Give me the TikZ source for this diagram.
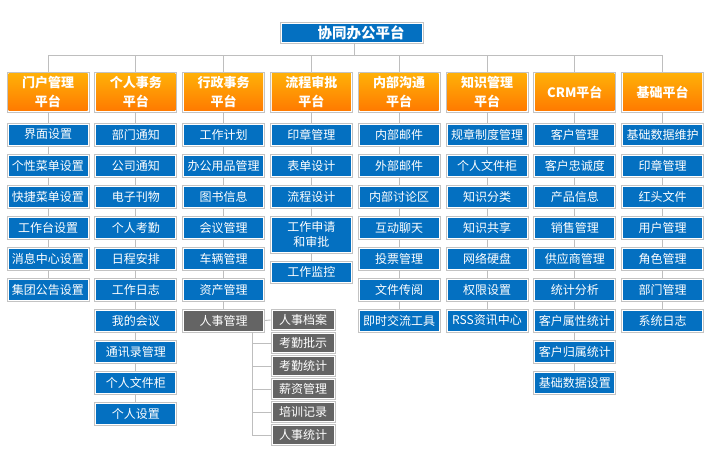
\documentclass[tikz,border=0pt]{standalone}
\usepackage{fontspec}
\newfontfamily\cjk{Noto Sans CJK SC}
\definecolor{blueC}{RGB}{4,112,193}
\definecolor{grayC}{RGB}{100,100,100}
\definecolor{oTop}{RGB}{255,178,8}
\definecolor{oBot}{RGB}{255,120,0}
\definecolor{lineC}{RGB}{190,190,190}
\definecolor{bordC}{RGB}{195,195,195}
\tikzset{
  anybox/.style={draw=bordC, line width=0.9pt, fill=white, inner sep=0pt,
    text=white, align=center, minimum width=82pt, minimum height=23pt,
    font=\cjk\fontsize{12}{16}\selectfont},
  bbox/.style={anybox, path picture={\fill[blueC]
    ([shift={(1.5pt,-1.5pt)}]path picture bounding box.north west) rectangle
    ([shift={(-1.5pt,1.5pt)}]path picture bounding box.south east);}},
  gbox/.style={anybox, path picture={\fill[grayC]
    ([shift={(1.5pt,-1.5pt)}]path picture bounding box.north west) rectangle
    ([shift={(-1.5pt,1.5pt)}]path picture bounding box.south east);}},
  hbox/.style={anybox, minimum height=40pt, font=\cjk\bfseries\fontsize{13}{19}\selectfont,
    path picture={\shade[top color=oTop, bottom color=oBot]
    ([shift={(1.5pt,-1.5pt)}]path picture bounding box.north west) rectangle
    ([shift={(-1.5pt,1.5pt)}]path picture bounding box.south east);}},
  subbox/.style={gbox, minimum width=64pt, minimum height=21pt},
  conn/.style={draw=lineC, line width=0.9pt},
}
\newcommand\mycolumn[3]{%
  \foreach \lbl [count=\k] in {#3} {
    \pgfmathtruncatemacro\p{\k-1}
    \node[bbox] (c#1r\k) at (#2,{134.5+31*(\k-1)}) {\lbl};
    \draw[conn] (c#1r\p.south) -- (c#1r\k.north);
  }}
\begin{document}
\begin{tikzpicture}[x=1pt,y=-1pt]
\useasboundingbox[fill=white] (0,0) rectangle (712,475);
% title
\node[bbox, minimum width=143pt, minimum height=21pt,
  font=\cjk\bfseries\fontsize{14.5}{16}\selectfont] (title) at (351.5,32.5)
  {\hspace*{19pt}协同办公平台};
\coordinate (bus) at (0,55);
% headers
\node[hbox] (c1r0) at (48,92) {门户管理\\平台};
\node[hbox] (c2r0) at (135.8,92) {个人事务\\平台};
\node[hbox] (c3r0) at (223.6,92) {行政事务\\平台};
\node[hbox] (c4r0) at (311.4,92) {流程审批\\平台};
\node[hbox] (c5r0) at (399.2,92) {内部沟通\\平台};
\node[hbox] (c6r0) at (487,92) {知识管理\\平台};
\node[hbox] (c7r0) at (574.8,92) {CRM平台};
\node[hbox] (c8r0) at (662.6,92) {基础平台};
\draw[conn] ([xshift=2.5pt]title.south) -- ([xshift=2.5pt]title.south |- bus);
\draw[conn] (c1r0.north |- bus) -- (c8r0.north |- bus);
\foreach \i in {1,...,8} {\draw[conn] (c\i r0.north) -- (c\i r0.north |- bus);}
% columns
\mycolumn{1}{48}{界面设置,个性菜单设置,快捷菜单设置,工作台设置,消息中心设置,集团公告设置}
\mycolumn{2}{135.8}{部门通知,公司通知,电子刊物,个人考勤,日程安排,工作日志,我的会议,通讯录管理,个人文件柜,个人设置}
\mycolumn{3}{223.6}{工作计划,办公用品管理,图书信息,会议管理,车辆管理,资产管理}
\mycolumn{4}{311.4}{印章管理,表单设计,流程设计}
\mycolumn{5}{399.2}{内部邮件,外部邮件,内部讨论区,互动聊天,投票管理,文件传阅,即时交流工具}
\mycolumn{6}{487}{规章制度管理,个人文件柜,知识分类,知识共享,网络硬盘,权限设置,RSS资讯中心}
\mycolumn{7}{574.8}{客户管理,客户忠诚度,产品信息,销售管理,供应商管理,统计分析,客户属性统计,客户归属统计,基础数据设置}
\mycolumn{8}{662.6}{基础数据维护,印章管理,红头文件,用户管理,角色管理,部门管理,系统日志}
% column 4 extras
\node[bbox, minimum height=37pt, font=\cjk\fontsize{12}{15}\selectfont] (c4r4) at (311.4,234.5) {工作申请\\和审批};
\node[bbox, minimum height=22pt] (c4r5) at (311.4,272) {工作监控};
\draw[conn] (c4r3.south) -- (c4r4.north);
\draw[conn] (c4r4.south) -- (c4r5.north);
% personnel
\node[gbox] (rs) at (223.6,320.5) {人事管理};
\draw[conn] (c3r6.south) -- (rs.north);
\node[subbox] (g1) at (303,320) {人事档案};
\node[subbox] (g2) at (303,343) {考勤批示};
\node[subbox] (g3) at (303,366) {考勤统计};
\node[subbox] (g4) at (303,389) {薪资管理};
\node[subbox] (g5) at (303,412) {培训记录};
\node[subbox] (g6) at (303,435) {人事统计};
\coordinate (sp) at (252,0);
\draw[conn] (rs.east) -- (g1.west);
\draw[conn] (rs.south -| sp) |- (g6.west);
\foreach \j in {2,...,5} {\draw[conn] (g\j.west) -- (g\j.west -| sp);}
\end{tikzpicture}
\end{document}
